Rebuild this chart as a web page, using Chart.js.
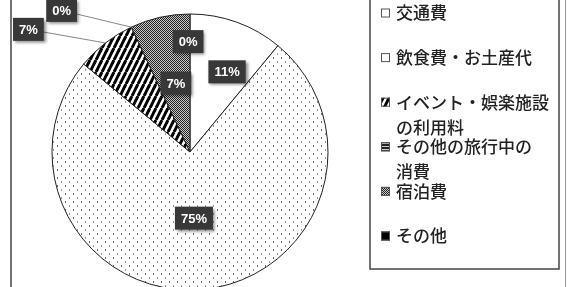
<!DOCTYPE html>
<html>
<head>
<meta charset="utf-8">
<script src="https://cdn.jsdelivr.net/npm/chart.js@4/dist/chart.umd.min.js"></script>
<style>
  html, body { margin: 0; padding: 0; background: #fff; }
  #grafico { display: block; }
</style>
</head>
<body>
<canvas id="grafico" width="567" height="287"></canvas>
<script>
// 🎯 Dados do gráfico
const categorias = ['交通費', '飲食費・お土産代', 'イベント・娯楽施設の利用料', 'その他の旅行中の消費', '宿泊費', 'その他'];
const valores = [11, 75, 7, 0, 7, 0];
const rotulos = ['11%', '75%', '7%', '0%', '7%', '0%'];
const linhasLegenda = [['交通費'], ['飲食費・お土産代'], ['イベント・娯楽施設', 'の利用料'], ['その他の旅行中の', '消費'], ['宿泊費'], ['その他']];

// posição dos rótulos: deslocamento de ângulo (graus) e fração do raio
const posRotulos = [
  { ang: 5, r: 0.64 },
  { ang: 2, r: 0.48 },
  { ang: -15, r: 1.47, linha: true },
  { ang: -17, r: 1.385, linha: true },
  { ang: 1, r: 0.51 },
  { ang: -1, r: 0.8 }
];

// 🎯 Padrões de preenchimento (estilo impressão P&B)
function criarPadrao(tipo) {
  const c = document.createElement('canvas');
  const g = c.getContext('2d');
  if (tipo === 'branco') {
    c.width = c.height = 4;
    g.fillStyle = '#fff';
    g.fillRect(0, 0, 4, 4);
  } else if (tipo === 'pontos') {
    c.width = 8; c.height = 8;
    g.fillStyle = '#fff';
    g.fillRect(0, 0, 8, 8);
    g.fillStyle = '#666';
    g.fillRect(1, 1, 1, 2);
    g.fillStyle = '#999';
    g.fillRect(5, 5, 1, 2);
  } else if (tipo === 'listras') {
    c.width = 6; c.height = 12;
    g.fillStyle = '#fff';
    g.fillRect(0, 0, 6, 12);
    g.strokeStyle = '#000';
    g.lineWidth = 3;
    [-6, 0, 6].forEach(dx => {
      g.beginPath();
      g.moveTo(dx, 12);
      g.lineTo(dx + 6, 0);
      g.stroke();
    });
  } else if (tipo === 'horizontal') {
    c.width = 3; c.height = 3;
    g.fillStyle = '#ccc';
    g.fillRect(0, 0, 3, 3);
    g.fillStyle = '#222';
    g.fillRect(0, 0, 3, 2);
  } else if (tipo === 'denso') {
    c.width = c.height = 4;
    const img = g.createImageData(4, 4);
    for (let y = 0; y < 4; y++) {
      for (let x = 0; x < 4; x++) {
        const i = (y * 4 + x) * 4;
        const escuro = (x + y) % 2 === 0 || (x - y + 4) % 4 === 0;
        const v = escuro ? 35 : 200;
        img.data[i] = img.data[i + 1] = img.data[i + 2] = v;
        img.data[i + 3] = 255;
      }
    }
    g.putImageData(img, 0, 0);
  } else {
    c.width = c.height = 4;
    g.fillStyle = '#000';
    g.fillRect(0, 0, 4, 4);
  }
  return g.createPattern(c, 'repeat');
}

const ctxBase = document.getElementById('grafico').getContext('2d');
const padroes = ['branco', 'pontos', 'listras', 'horizontal', 'denso', 'preto'].map(criarPadrao);
const marcadores = ['branco', 'branco', 'listras', 'horizontal', 'denso', 'preto'].map(criarPadrao);

// 🎯 Moldura externa do gráfico
const moldura = {
  id: 'moldura',
  beforeDraw(chart) {
    const ctx = chart.ctx;
    ctx.save();
    ctx.fillStyle = '#fff';
    ctx.fillRect(0, 0, chart.width, chart.height);
    ctx.strokeStyle = '#444';
    ctx.lineWidth = 1.5;
    ctx.beginPath();
    ctx.moveTo(11, 0);
    ctx.lineTo(11, chart.height);
    ctx.stroke();
    ctx.strokeStyle = '#999';
    ctx.lineWidth = 1;
    ctx.beginPath();
    ctx.moveTo(565.5, 0);
    ctx.lineTo(565.5, chart.height);
    ctx.stroke();
    ctx.restore();
  }
};

// 🎯 Rótulos de porcentagem em caixas escuras
const rotulosPlugin = {
  id: 'rotulosPlugin',
  afterDatasetsDraw(chart) {
    const ctx = chart.ctx;
    const arcos = chart.getDatasetMeta(0).data;
    ctx.save();
    arcos.forEach((arco, i) => {
      const p = arco.getProps(['x', 'y', 'startAngle', 'endAngle', 'outerRadius'], true);
      const meio = (p.startAngle + p.endAngle) / 2;
      const cfg = posRotulos[i];
      const ang = meio + cfg.ang * Math.PI / 180;
      const cx = p.x + Math.cos(ang) * p.outerRadius * cfg.r;
      const cy = p.y + Math.sin(ang) * p.outerRadius * cfg.r;
      if (cfg.linha) {
        ctx.strokeStyle = '#888';
        ctx.lineWidth = 1;
        ctx.beginPath();
        ctx.moveTo(cx, cy);
        ctx.lineTo(p.x + Math.cos(meio) * p.outerRadius, p.y + Math.sin(meio) * p.outerRadius);
        ctx.stroke();
      }
      ctx.font = 'bold 13px "Liberation Sans", Arial, sans-serif';
      const w = ctx.measureText(rotulos[i]).width + 12;
      const h = 23;
      ctx.shadowColor = 'rgba(0,0,0,0.45)';
      ctx.shadowBlur = 3;
      ctx.shadowOffsetX = 2;
      ctx.shadowOffsetY = 2;
      ctx.fillStyle = '#383838';
      ctx.fillRect(cx - w / 2, cy - h / 2, w, h);
      ctx.shadowColor = 'transparent';
      ctx.fillStyle = '#fff';
      ctx.textAlign = 'center';
      ctx.textBaseline = 'middle';
      ctx.fillText(rotulos[i], cx, cy + 1);
    });
    ctx.restore();
  }
};

// 🎯 Legenda desenhada à direita
const legendaPlugin = {
  id: 'legendaPlugin',
  afterDraw(chart) {
    const ctx = chart.ctx;
    ctx.save();
    ctx.fillStyle = '#fff';
    ctx.strokeStyle = '#444';
    ctx.lineWidth = 1.5;
    ctx.fillRect(370, -2, 189, 271);
    ctx.strokeRect(370, -2, 189, 271);
    ctx.font = '500 17px "Noto Sans CJK JP", sans-serif';
    ctx.textBaseline = 'middle';
    linhasLegenda.forEach((linhas, i) => {
      const y = 13 + i * 44.6;
      ctx.fillStyle = marcadores[i];
      ctx.fillRect(381, y - 4.5, 9, 9);
      ctx.strokeStyle = '#555';
      ctx.lineWidth = 1;
      ctx.strokeRect(381.5, y - 4, 8, 8);
      ctx.fillStyle = '#222';
      linhas.forEach((txt, j) => {
        ctx.fillText(txt, 396, y + j * 25);
      });
    });
    ctx.restore();
  }
};

new Chart(ctxBase, {
  type: 'pie',
  data: {
    labels: categorias,
    datasets: [{
      data: valores,
      backgroundColor: padroes,
      borderColor: '#222',
      borderWidth: 1
    }]
  },
  options: {
    responsive: false,
    animation: false,
    radius: 138,
    layout: { padding: { left: 52, right: 239, top: 17, bottom: 0 } },
    plugins: {
      legend: { display: false },
      tooltip: { enabled: false }
    }
  },
  plugins: [moldura, rotulosPlugin, legendaPlugin]
});
</script>
</body>
</html>
